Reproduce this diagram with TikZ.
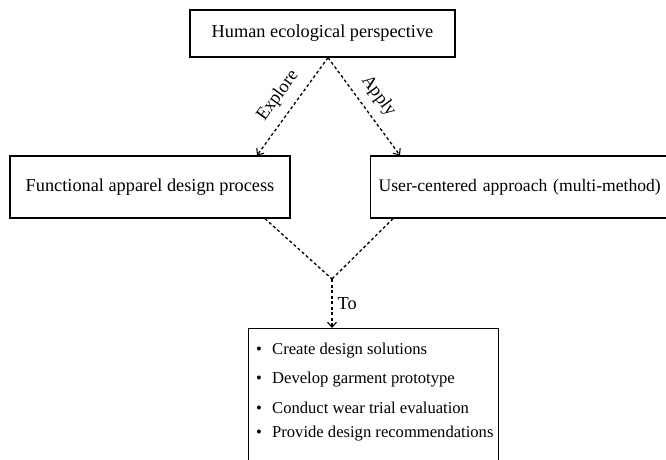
\documentclass[tikz,border=0pt]{standalone}
\usepackage{fontspec}
\setmainfont{Liberation Serif}
\usetikzlibrary{arrows.meta}
\begin{document}
\begin{tikzpicture}[x=1pt,y=-1pt,
  txt/.style={font=\fontsize{18.3}{22}\selectfont},
  box/.style={draw, line width=1.3pt, inner sep=0pt, txt},
  conn/.style={line width=1.3pt, dash pattern=on 3pt off 2.5pt},
  arr/.style={conn, -{Straight Barb[length=5pt,width=9pt,line width=1.1pt]}},
  lbl/.style={txt, inner sep=9pt},
  item/.style={anchor=west, inner sep=0pt, font=\fontsize{16.6}{19}\selectfont}]
\useasboundingbox (0,0) rectangle (666,459);
\fill[white] (0,0) rectangle (666,459);
\node[box, minimum width=265pt, minimum height=47pt] (top) at (322.5,33.5) {Human ecological perspective};
\node[box, minimum width=280pt, minimum height=62pt] (left) at (150,187) {Functional apparel design process};
\node[box, anchor=west, text width=294pt, align=left, inner xsep=8pt, minimum height=62pt, font=\fontsize{17.6}{21}\selectfont] (right) at (370,187) {User-centered approach (multi-method)};
\node[box, anchor=north west, minimum width=250pt, minimum height=150pt] (bottom) at (248,328) {};
\node[item] (i1) at (256,351) {\makebox[16pt][l]{\textbullet}Create design solutions};
\node[item] (i2) at (256,380) {\makebox[16pt][l]{\textbullet}Develop garment prototype};
\node[item] (i3) at (256,408) {\makebox[16pt][l]{\textbullet}Conduct wear trial evaluation};
\node[item] (i4) at (256,434) {\makebox[16pt][l]{\textbullet}Provide design recommendations};
\coordinate (ts) at ([xshift=5.5pt]top.south);
\coordinate (le) at ([xshift=107pt]left.north);
\coordinate (re) at ([xshift=30pt]right.north west);
\coordinate (lb) at ([xshift=115pt]left.south);
\coordinate (rb) at ([xshift=23pt]right.south west);
\coordinate (j) at (332,279);
\draw[arr] (ts) -- node[lbl, midway, sloped, above] {Explore} (le);
\draw[arr] (ts) -- node[lbl, midway, sloped, above] {Apply} (re);
\draw[conn] (lb) -- (j);
\draw[conn] (rb) -- (j);
\draw[arr] (j) -- node[lbl, midway, right, inner sep=5pt] {To} (j |- bottom.north);
\end{tikzpicture}
\end{document}
